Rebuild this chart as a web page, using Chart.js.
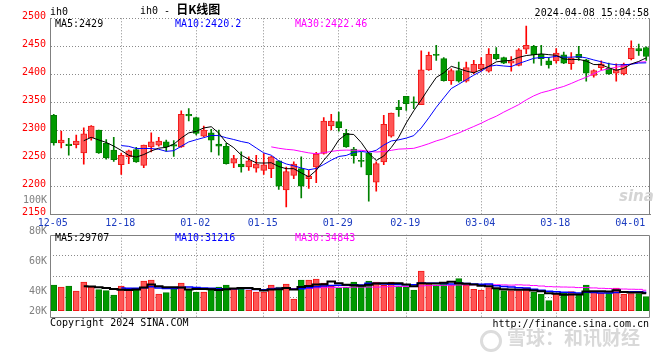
<!DOCTYPE html>
<html><head><meta charset="utf-8">
<script src="https://cdn.jsdelivr.net/npm/chart.js@4.4.1/dist/chart.umd.min.js"></script>
<style>
body{margin:0;background:#fff;}
#wrap{position:relative;width:660px;height:360px;overflow:hidden;background:#fff;font-family:'DejaVu Sans Mono',monospace;font-size:10px;color:#000;}
.t{position:absolute;white-space:nowrap;line-height:12px;}
canvas{position:absolute;left:0;}
</style></head><body>
<div id="wrap">
<canvas id="main" width="660" height="230" style="top:0"></canvas>
<canvas id="vol" width="660" height="100" style="top:228px"></canvas>
<div class="t" style="left:50px;top:6px;">ih0</div>
<div class="t" style="left:140px;top:3px;">ih0 - <span style="font-family:'Noto Sans CJK SC';font-size:12px;font-weight:bold;">日K线图</span></div>
<div class="t" style="right:11px;top:7px;">2024-04-08 15:04:58</div>
<div class="t" style="left:55px;top:18px;color:#000;">MA5:2429</div>
<div class="t" style="left:175px;top:18px;color:#0000FF;">MA10:2420.2</div>
<div class="t" style="left:295px;top:18px;color:#FF00FF;">MA30:2422.46</div>
<div class="t" style="right:613px;top:194px;color:#808080;">100K</div>
<div class="t" style="right:613px;top:225px;color:#808080;">80K</div>
<div class="t" style="right:613px;top:255px;color:#808080;">60K</div>
<div class="t" style="right:613px;top:285px;color:#808080;">40K</div>
<div class="t" style="right:613px;top:305px;color:#808080;">20K</div>
<div class="t" style="left:55px;top:232px;color:#000;">MA5:29707</div>
<div class="t" style="left:175px;top:232px;color:#0000FF;">MA10:31216</div>
<div class="t" style="left:295px;top:232px;color:#FF00FF;">MA30:34843</div>
<div class="t" style="left:50px;top:317px;">Copyright 2024 SINA.COM</div>
<div class="t" style="right:11px;top:318px;">http://finance.sina.com.cn</div>
<div class="t" style="left:619px;top:188px;font-family:'DejaVu Sans';font-size:15px;font-style:italic;font-weight:bold;color:#d4d4d4;line-height:16px;">sina</div>
<div style="position:absolute;left:480px;top:330px;width:16px;height:16px;border:3px solid #dcdcdc;border-radius:50%;"></div>
<div class="t" style="left:507px;top:326px;font-family:'Noto Sans CJK SC';font-size:19px;font-weight:bold;color:#d9d9d9;line-height:22px;">雪球：和讯财经</div>
</div>
<script>
// ---------- data ----------
const categories = ['12-05','12-06','12-07','12-08','12-11','12-12','12-13','12-14','12-15','12-18','12-19','12-20','12-21','12-22','12-25','12-26','12-27','12-28','12-29','01-02','01-03','01-04','01-05','01-08','01-09','01-10','01-11','01-12','01-15','01-16','01-17','01-18','01-19','01-22','01-23','01-24','01-25','01-26','01-29','01-30','01-31','02-01','02-02','02-05','02-06','02-07','02-08','02-19','02-20','02-21','02-22','02-23','02-26','02-27','02-28','02-29','03-01','03-04','03-05','03-06','03-07','03-08','03-11','03-12','03-13','03-14','03-15','03-18','03-19','03-20','03-21','03-22','03-25','03-26','03-27','03-28','03-29','04-01','04-02','04-03'];
const axisDates = ['12-05','12-18','01-02','01-15','01-29','02-19','03-04','03-18','04-01'];
const opens = [2327,2278,2276,2275,2260,2287,2301,2277,2265,2239, 2253,2266,2238,2271,2274,2280,2275,2271,2329,2323, 2290,2296,2276,2272,2242,2240,2235,2233,2229,2232, 2246,2194,2220,2232,2214,2235,2259,2308,2316,2295, 2267,2246,2260,2208,2244,2290,2342,2361,2351,2346, 2408,2436,2428,2389,2407,2388,2404,2410,2406,2436, 2430,2420,2416,2445,2450,2436,2424,2424,2435,2419, 2436,2426,2398,2412,2411,2402,2401,2428,2446,2448];
const highs = [2329,2299,2286,2292,2305,2309,2301,2284,2288,2260, 2265,2270,2274,2296,2288,2283,2282,2335,2339,2324, 2308,2302,2301,2277,2256,2262,2253,2256,2259,2254, 2246,2235,2244,2253,2229,2261,2323,2329,2333,2302, 2270,2261,2260,2244,2327,2331,2354,2361,2360,2442, 2440,2452,2430,2410,2422,2422,2425,2430,2446,2448, 2431,2432,2446,2486,2452,2452,2430,2446,2440,2439, 2450,2427,2408,2424,2420,2419,2420,2460,2454,2449];
const lows = [2274,2269,2256,2269,2240,2283,2259,2249,2245,2222, 2241,2243,2234,2262,2272,2263,2254,2270,2317,2292, 2289,2262,2256,2240,2234,2226,2229,2226,2222,2216, 2195,2164,2214,2180,2197,2207,2258,2301,2299,2270, 2242,2235,2174,2192,2239,2288,2325,2336,2339,2346, 2407,2425,2388,2382,2386,2386,2401,2406,2404,2426, 2419,2406,2415,2437,2420,2416,2411,2420,2419,2409, 2425,2388,2395,2408,2400,2388,2399,2426,2434,2425];
const closes = [2278,2283,2273,2281,2294,2308,2260,2251,2248,2256, 2264,2244,2274,2280,2281,2271,2272,2329,2326,2295, 2301,2283,2272,2241,2250,2235,2246,2240,2239,2253, 2201,2227,2240,2201,2219,2258,2317,2317,2305,2271, 2255,2245,2221,2241,2311,2331,2337,2348,2349,2408, 2434,2434,2389,2407,2388,2412,2418,2418,2436,2428, 2420,2424,2444,2452,2435,2428,2417,2438,2420,2429, 2430,2402,2407,2419,2401,2408,2418,2447,2442,2432];
const ma5 = [null,null,null,null,2281.8,2287.8,2283.2,2278.8,2272.2,2264.6, 2255.8,2252.6,2257.2,2263.6,2268.6,2270.0,2275.6,2286.6,2295.8,2298.6, 2304.6,2306.8,2295.4,2278.4,2269.4,2256.2,2248.8,2242.4,2242.0,2242.6, 2235.8,2232.0,2232.0,2224.4,2217.6,2229.0,2247.0,2262.4,2283.2,2293.6, 2293.0,2278.6,2259.4,2246.6,2254.6,2269.8,2288.2,2313.6,2335.2,2354.6, 2375.2,2394.6,2402.8,2414.4,2410.4,2406.0,2402.8,2408.6,2414.4,2422.4, 2424.0,2425.2,2430.4,2433.6,2435.0,2436.6,2435.2,2434.0,2427.6,2426.4, 2426.8,2423.8,2417.6,2417.4,2411.8,2407.4,2410.6,2418.6,2423.2,2429.4];
const ma10 = [null,null,null,null,null,null,null,null,null,2273.2, 2271.8,2267.9,2268.0,2267.9,2266.6,2262.9,2264.1,2271.9,2279.7,2283.6, 2287.3,2291.2,2291.0,2287.1,2284.0,2280.4,2277.8,2268.9,2260.2,2256.0, 2246.0,2240.4,2237.2,2233.2,2230.1,2232.4,2239.5,2247.2,2253.8,2255.6, 2261.0,2262.8,2260.9,2264.9,2274.1,2281.4,2283.4,2286.5,2290.9,2304.6, 2322.5,2341.4,2358.2,2374.8,2382.5,2390.6,2398.7,2405.7,2414.4,2416.4, 2415.0,2414.0,2419.5,2424.0,2428.7,2430.3,2430.2,2432.2,2430.6,2430.7, 2431.7,2429.5,2425.8,2422.5,2419.1,2417.1,2417.2,2418.1,2420.3,2420.6];
const ma30 = [null,null,null,null,null,null,null,null,null,null, null,null,null,null,null,null,null,null,null,null, null,null,null,null,null,null,null,null,null,2270.9, 2268.4,2266.5,2265.4,2262.7,2260.2,2258.6,2260.5,2262.7,2264.6,2265.1, 2264.8,2264.8,2263.0,2261.7,2262.7,2264.7,2266.9,2267.5,2268.3,2272.1, 2276.5,2281.5,2285.4,2291.0,2295.6,2301.5,2307.2,2313.1,2319.7,2325.5, 2332.8,2339.4,2346.2,2354.6,2361.8,2367.4,2370.8,2374.8,2378.6,2383.9, 2389.7,2395.0,2401.2,2407.1,2410.1,2412.7,2415.4,2418.7,2421.8,2422.6];
const volumes = [43700,40300,42000,33500,48800,40300,35700,34000,26700,42000, 38600,38600,50500,52200,28400,30600,37900,47100,36900,31800, 31800,35200,40300,43700,36900,36900,35200,31800,31800,43700, 40300,45400,19900,52200,52200,53900,47100,42000,37900,40000, 48800,43000,50500,48800,43000,48800,42000,39600,35200,67500, 46400,43000,46400,43000,54500,43000,36200,35200,39300,37400, 34000,34000,34000,38000,31800,28400,17000,29400,29400,32500, 28500,43500,31500,30000,30200,38500,28000,29000,29000,24000];
const vma5 = [null,null,null,null,41660,40980,40060,38460,37100,35740, 35400,35980,39280,44380,41660,40060,39920,39240,36180,36860, 37100,36560,35200,36560,37580,38600,38600,36900,34520,35880, 36560,38600,36220,40300,42000,44720,45060,49480,46620,44180, 43160,42340,44040,46220,46820,46820,46620,44440,41720,46620, 46140,46340,47700,49260,46660,45980,44620,42380,41640,38220, 36420,35980,35740,35480,34360,33240,29840,28920,27200,27340, 27360,32660,33080,33200,32740,34740,31640,31140,30940,29700];
const vma10 = [null,null,null,null,null,null,null,null,null,38700, 38190,38020,38870,40740,38700,37730,37950,39260,40280,39260, 38580,38240,37220,36370,37220,37850,37580,36050,35540,36730, 37580,38600,36560,37410,38940,40640,41830,42850,43460,43090, 43940,43700,46760,46420,45500,44990,44480,44240,43970,46720, 46480,46480,46070,45490,46640,46060,45480,45040,45450,42440, 41200,40300,39060,38560,36290,34830,32910,32330,31340,30850, 30300,31250,31000,30200,30040,31050,32150,32110,32070,31220];
const vma30 = [null,null,null,null,null,null,null,null,null,null, null,null,null,null,null,null,null,null,null,null, null,null,null,null,null,null,null,null,null,38230, 38117,38287,37550,38173,38287,38740,39120,39387,39760,39693, 40033,40180,40180,40067,40553,41160,41297,41047,40990,42180, 42667,42927,43130,43107,43693,43897,43930,44043,44293,44083, 43873,43493,43963,43490,42810,41960,40957,40537,40253,40003, 39327,39343,38710,38083,37657,37313,36847,36493,36287,34837];
const priceMin = 2150, priceMax = 2500, priceStep = 50;
const volMin = -12920, volMax = 129200;

// ---------- styles ----------
const UP_FILL='#FF5555', UP_LINE='#F01818', DN_FILL='#009A00', DN_LINE='#007C00', UP_WICK='#FF0000', DN_WICK='#008000';
const GRID='#8a8a8a', FRAME='#808080';
const FONT={family:'DejaVu Sans Mono', size:10};
const up = closes.map((c,i)=> c >= opens[i]);
const tickIdx = axisDates.map(d => categories.indexOf(d));
const gridIdx = tickIdx.slice(1, -1);

function framePlugin(full){
  return {id:'frame', afterDraw(chart){
    const {ctx, chartArea:a} = chart;
    ctx.save(); ctx.strokeStyle=FRAME; ctx.lineWidth=1; ctx.setLineDash([]); ctx.beginPath();
    const r = Math.round(a.right)-0.5, l = Math.round(a.left)+0.5, t = Math.round(a.top)+0.5, b = Math.round(a.bottom)-0.5;
    if(full){ ctx.moveTo(l,t); ctx.lineTo(r,t); ctx.lineTo(r,b); ctx.lineTo(l,b); ctx.closePath(); }
    else { ctx.moveTo(r,a.top); ctx.lineTo(r,a.bottom); }
    ctx.stroke(); ctx.restore();
  }};
}
function xAxis(showLabels, h){
  return {
    type:'category', labels:categories, offset:true,
    afterBuildTicks: s => { s.ticks = tickIdx.map(v => ({value:v})); },
    afterFit: s => { s.height = h; },
    grid:{ offset:false, drawTicks:false, lineWidth:1,
      color: c => (c.tick && gridIdx.includes(c.tick.value)) ? GRID : 'rgba(0,0,0,0)' },
    border:{ display:showLabels, color:FRAME, dash:[1,2] },
    ticks:{ display:showLabels, autoSkip:false, maxRotation:0, minRotation:0, padding:3,
      color:'#1c3cc0', font:FONT, labelOffset:-1, callback: v => categories[v] }
  };
}
const common = {responsive:false, animation:false, events:[], devicePixelRatio:1,
  plugins:{legend:{display:false}, tooltip:{enabled:false}}};

new Chart(document.getElementById('main'), {
  type:'bar',
  data:{ labels:categories, datasets:[
    {type:'line', data:ma5, borderColor:'#000000', borderWidth:1, pointRadius:0, order:0},
    {type:'line', data:ma10, borderColor:'#0000FF', borderWidth:1, pointRadius:0, order:0},
    {type:'line', data:ma30, borderColor:'#FF00FF', borderWidth:1, pointRadius:0, order:0},
    {type:'bar', data:opens.map((o,i)=>[o, closes[i]]), backgroundColor:up.map(u=>u?UP_FILL:DN_FILL),
      borderColor:up.map(u=>u?UP_LINE:DN_LINE), borderWidth:1, borderSkipped:false, barThickness:6,
      minBarLength:1, grouped:false, order:1},
    {type:'bar', data:lows.map((l,i)=>[l, highs[i]]), backgroundColor:up.map(u=>u?UP_WICK:DN_WICK),
      borderWidth:0, barThickness:1, grouped:false, order:2}
  ]},
  options:Object.assign({}, common, {
    layout:{padding:{top:18.3, right:10, left:0, bottom:0}},
    scales:{
      x: xAxis(true, 15.3),
      y: { type:'linear', position:'left', min:priceMin, max:priceMax,
        afterFit: s => { s.width = 50; },
        ticks:{ stepSize:priceStep, color:'#FF0000', padding:4, font:FONT, labelOffset:-2, callback: v => String(v) },
        grid:{ drawTicks:false, color:GRID, lineWidth:1 },
        border:{ display:true, color:FRAME, dash:[1,2] } }
    }
  }),
  plugins:[framePlugin(false)]
});

new Chart(document.getElementById('vol'), {
  type:'bar',
  data:{ labels:categories, datasets:[
    {type:'line', data:vma5, borderColor:'#000000', borderWidth:2, stepped:'middle', pointRadius:0, order:0},
    {type:'line', data:vma10, borderColor:'#0000FF', borderWidth:1.5, stepped:'middle', pointRadius:0, order:0},
    {type:'line', data:vma30, borderColor:'#FF00FF', borderWidth:1, stepped:'middle', pointRadius:0, order:0},
    {type:'bar', data:volumes, backgroundColor:up.map(u=>u?UP_FILL:DN_FILL), borderColor:up.map(u=>u?UP_LINE:DN_LINE),
      borderWidth:1, borderSkipped:false, barThickness:6, grouped:false, order:1}
  ]},
  options:Object.assign({}, common, {
    layout:{padding:{top:6.7, right:10, left:0, bottom:0}},
    scales:{
      x: xAxis(false, 9.7),
      y: { type:'linear', position:'left', min:volMin, max:volMax,
        afterFit: s => { s.width = 50; },
        afterBuildTicks: s => { s.ticks = [0,1,2,3,4].map(k => ({value: volMin + k*(volMax-volMin)/4})); },
        ticks:{ display:false },
        grid:{ drawTicks:false, lineWidth:1, color: c => (c.index===0 || c.index===4) ? 'rgba(0,0,0,0)' : GRID },
        border:{ display:false, dash:[1,2] } }
    }
  }),
  plugins:[framePlugin(true)]
});
</script>
</body></html>
